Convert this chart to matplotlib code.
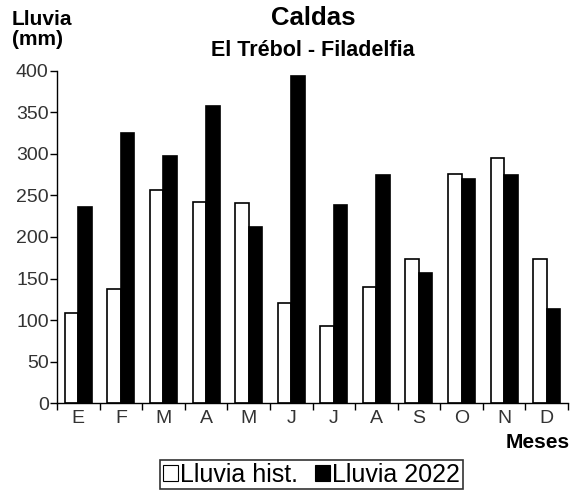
import matplotlib
matplotlib.use("Agg")
import matplotlib.pyplot as plt
import numpy as np
from matplotlib.patches import Patch
from matplotlib import font_manager

plt.rcParams['font.family'] = ['Liberation Sans', 'DejaVu Sans']

months = ["E", "F", "M", "A", "M", "J", "J", "A", "S", "O", "N", "D"]
hist = [108, 138, 256, 242, 241, 121, 93, 140, 174, 276, 295, 174]
y2022 = [236, 325, 297, 357, 212, 394, 238, 275, 157, 270, 275, 114]
series_names = ["Lluvia hist.", "Lluvia 2022"]
yticks = [0, 50, 100, 150, 200, 250, 300, 350, 400]

fig = plt.figure(figsize=(5.76, 4.91), dpi=100)
ax = fig.add_axes([57/576, 1-403.3/491, (568-57)/576, (403.3-70.7)/491])

x = np.arange(len(months))
w = 0.317
ax.bar(x - w/2, hist, width=w, facecolor="white", edgecolor="black", linewidth=1.2)
ax.bar(x + w/2, y2022, width=w, facecolor="black", edgecolor="black", linewidth=1.2)

ax.set_xlim(-0.5, len(months) - 0.5)
ax.set_ylim(0, 400)
ax.set_yticks(yticks)
ax.set_yticklabels([str(v) for v in yticks])
ax.set_xticks(x)
ax.set_xticklabels(months)
ax.set_xticks(np.arange(-0.5, len(months)), minor=True)
ax.tick_params(axis='x', which='major', length=0, pad=5, labelsize=14, labelcolor="#333333")
ax.tick_params(axis='x', which='minor', length=5, width=1, direction='out')
ax.tick_params(axis='y', length=5, width=1, direction='out', pad=1, labelsize=14, labelcolor="#333333")
for s in ["top", "right"]:
    ax.spines[s].set_visible(False)
for s in ["left", "bottom"]:
    ax.spines[s].set_linewidth(1)

fig.text(313/576, 1-17.7/491, "Caldas", ha="center", va="center", fontsize=18.5, fontweight="bold")
fig.text(313/576, 1-50.5/491, "El Trébol - Filadelfia", ha="center", va="center", fontsize=15.5, fontweight="bold")
fig.text(12/576, 1-10/491, "Lluvia\n(mm)", ha="left", va="top", fontsize=15, fontweight="bold", linespacing=1.05)
fig.text(570/576, 1-443/491, "Meses", ha="right", va="center", fontsize=15, fontweight="bold")

handles = [Patch(facecolor="white", edgecolor="black", linewidth=0.8),
           Patch(facecolor="black", edgecolor="black", linewidth=0.8)]
leg = fig.legend(handles, series_names, loc="center", bbox_to_anchor=(311.5/576, 1-474.5/491),
                 ncol=2, frameon=True, fancybox=False, edgecolor="black",
                 prop=font_manager.FontProperties(family=['Liberation Sans', 'DejaVu Sans'], size=18),
                 handlelength=0.6, handleheight=0.6, handletextpad=0.08, columnspacing=0.7,
                 borderpad=0.1, borderaxespad=0)
leg.get_frame().set_linewidth(1.2)

fig.savefig("out.png", dpi=100)
